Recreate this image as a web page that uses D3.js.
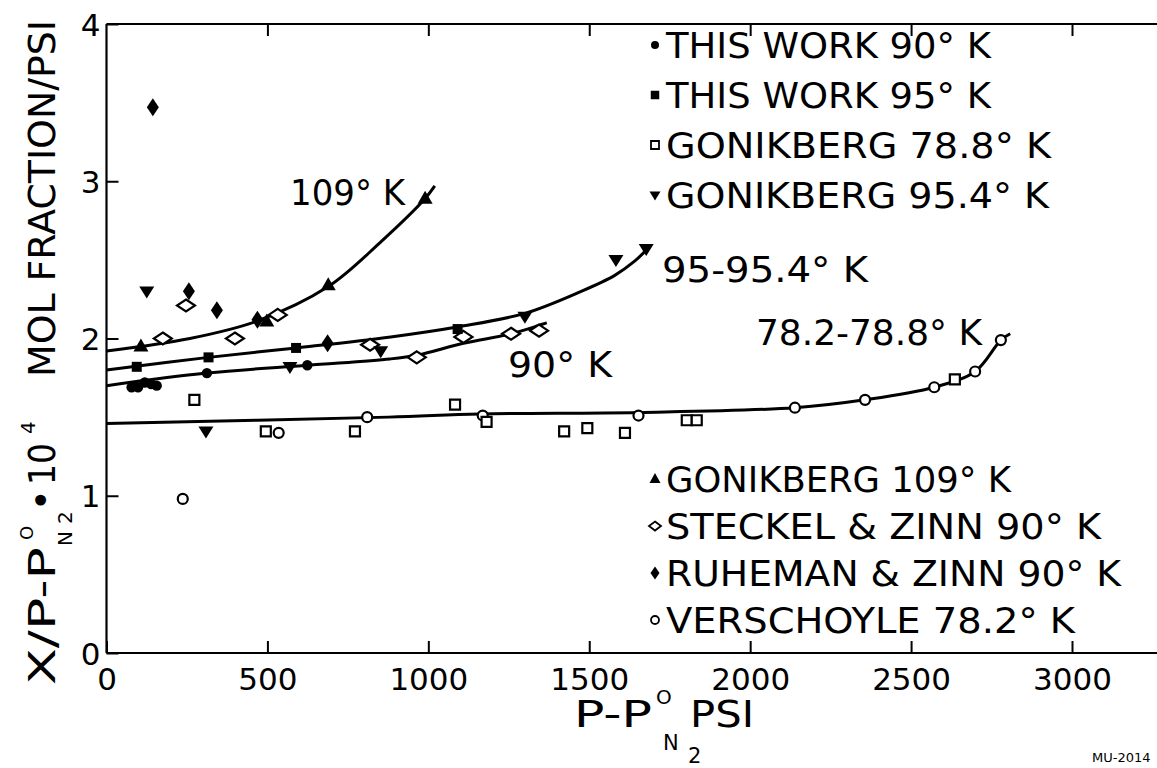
<!DOCTYPE html>
<html>
<head>
<meta charset="utf-8">
<script src="https://cdn.jsdelivr.net/npm/d3@7"></script>
<style>
  body { margin: 0; background: #fff; }
  svg { display: block; }
  text { font-family: "DejaVu Sans", sans-serif; fill: #000; }
</style>
</head>
<body>
<svg id="chart" width="1157" height="768"></svg>
<script>
// ---------------- data ----------------
const xTickValues = [0, 500, 1000, 1500, 2000, 2500, 3000];
const yTickValues = [0, 1, 2, 3, 4];

// [pressure P - P°N2 (psi), x/(P - P°N2) * 10^4]
const thisWork90     = [[78,1.69],[98,1.69],[119,1.72],[139,1.71],[156,1.70],[312,1.78],[624,1.83]];
const thisWork95     = [[94,1.82],[317,1.88],[589,1.94],[1091,2.06]];
const gonikberg788   = [[273,1.61],[495,1.41],[772,1.41],[1083,1.58],[1181,1.47],[1422,1.41],[1494,1.43],[1611,1.40],[1803,1.48],[1834,1.48],[2636,1.74]];
const gonikberg954   = [[125,2.30],[309,1.41],[570,1.82],[852,1.92],[1300,2.14],[1583,2.50],[1677,2.57]];
const gonikberg109   = [[107,1.95],[498,2.11],[689,2.34],[990,2.89]];
const steckelZinn90  = [[175,2.00],[247,2.21],[399,2.00],[532,2.15],[819,1.96],[964,1.88],[1109,2.01],[1257,2.03],[1344,2.05]];
const ruhemanZinn90  = [[144,3.47],[256,2.30],[343,2.18],[469,2.12],[687,1.97]];
const verschoyle782  = [[237,0.98],[535,1.40],[810,1.50],[1169,1.51],[1653,1.51],[2139,1.56],[2357,1.61],[2572,1.69],[2699,1.79],[2779,1.99]];

// smoothed curves drawn through the points
const curve109K = [[0,1.92],[259,2.00],[467,2.11],[689,2.33],[850,2.61],[990,2.89],[1020,2.97]];
const curve95K  = [[0,1.80],[317,1.88],[589,1.94],[883,2.01],[1094,2.075],[1300,2.16],[1475,2.30],[1578,2.40],[1640,2.49],[1681,2.57]];
const curve90K  = [[0,1.70],[312,1.78],[624,1.83],[881,1.87],[967,1.895],[1109,1.97],[1257,2.03],[1368,2.10]];
const curve78K  = [[0,1.46],[876,1.50],[1160,1.52],[1653,1.53],[2139,1.56],[2357,1.61],[2572,1.69],[2699,1.79],[2779,1.99],[2808,2.03]];

const curveLabels  = ["109° K", "95-95.4° K", "90° K", "78.2-78.8° K"];
const legendTop    = ["THIS WORK 90° K", "THIS WORK 95° K", "GONIKBERG 78.8° K", "GONIKBERG 95.4° K"];
const legendBottom = ["GONIKBERG 109° K", "STECKEL & ZINN 90° K", "RUHEMAN & ZINN 90° K", "VERSCHOYLE 78.2° K"];

// ---------------- layout ----------------
const svg = d3.select("#chart");
const W = 1157;
const x = d3.scaleLinear().domain([0, 3000]).range([106.5, 1072]);
const y = d3.scaleLinear().domain([0, 4]).range([653, 24]);

// marker path generators
function diamond(w, h) { return `M0,${-h/2}L${w/2},0L0,${h/2}L${-w/2},0Z`; }
function triUp(w, h)   { return `M0,${-h*0.6}L${w/2},${h*0.4}L${-w/2},${h*0.4}Z`; }
function triDown(w, h) { return `M0,${h*0.6}L${w/2},${-h*0.4}L${-w/2},${-h*0.4}Z`; }
function square(s)     { return `M${-s/2},${-s/2}h${s}v${s}h${-s}Z`; }
function circle(r)     { return `M${r},0A${r},${r} 0 1,1 ${-r},0A${r},${r} 0 1,1 ${r},0Z`; }

const styles = {
  work90:  {path: circle(5.2),     fill: "#000", stroke: "none"},
  work95:  {path: square(10),      fill: "#000", stroke: "none"},
  gon788:  {path: square(10),      fill: "#fff", stroke: "#000"},
  gon954:  {path: triDown(15, 12), fill: "#000", stroke: "none"},
  gon109:  {path: triUp(15, 13),   fill: "#000", stroke: "none"},
  steckel: {path: diamond(18, 12), fill: "#fff", stroke: "#000"},
  ruheman: {path: diamond(12, 18), fill: "#000", stroke: "none"},
  versch:  {path: circle(5),       fill: "#fff", stroke: "#000"}
};
const legendStyles = {
  work90:  {path: circle(4),       fill: "#000", stroke: "none"},
  work95:  {path: square(8.5),     fill: "#000", stroke: "none"},
  gon788:  {path: square(8),       fill: "#fff", stroke: "#000"},
  gon954:  {path: triDown(11, 9),  fill: "#000", stroke: "none"},
  gon109:  {path: triUp(11, 10),   fill: "#000", stroke: "none"},
  steckel: {path: diamond(12, 9),  fill: "#fff", stroke: "#000"},
  ruheman: {path: diamond(9, 13),  fill: "#000", stroke: "none"},
  versch:  {path: circle(4),       fill: "#fff", stroke: "#000"}
};

// ---------------- frame & axes ----------------
const frame = svg.append("g").attr("stroke", "#000").attr("stroke-width", 2.2).attr("fill", "none");
frame.append("line").attr("x1", x(0)).attr("x2", x(0)).attr("y1", y(4)).attr("y2", y(0));
frame.append("line").attr("x1", x(0)).attr("x2", W).attr("y1", y(0)).attr("y2", y(0));
frame.append("line").attr("x1", x(0)).attr("x2", W).attr("y1", y(4)).attr("y2", y(4));

const xAxis = svg.append("g").attr("transform", `translate(0,${y(0)})`)
  .call(d3.axisBottom(x).tickValues(xTickValues).tickSize(-12).tickFormat(d3.format("d")));
xAxis.select(".domain").remove();
xAxis.selectAll(".tick line").attr("stroke-width", 2);
xAxis.selectAll(".tick text").attr("y", 37).attr("dy", 0)
  .attr("font-size", 31).attr("font-family", "DejaVu Sans").attr("fill", "#000");

const xTop = svg.append("g").attr("transform", `translate(0,${y(4)})`)
  .call(d3.axisTop(x).tickValues(xTickValues.slice(1)).tickSize(-12).tickFormat(""));
xTop.select(".domain").remove();
xTop.selectAll(".tick line").attr("stroke-width", 2);

const yAxis = svg.append("g").attr("transform", `translate(${x(0)},0)`)
  .call(d3.axisLeft(y).tickValues(yTickValues).tickSize(-12).tickFormat(d3.format("d")));
yAxis.select(".domain").remove();
yAxis.selectAll(".tick line").attr("stroke-width", 2);
yAxis.selectAll(".tick text").attr("x", -6).attr("dy", "0.36em")
  .attr("font-size", 31).attr("font-family", "DejaVu Sans").attr("fill", "#000");

// ---------------- curves ----------------
const line = d3.line().x(d => x(d[0])).y(d => y(d[1])).curve(d3.curveCatmullRom.alpha(0.5));
svg.append("g").attr("fill", "none").attr("stroke", "#000").attr("stroke-width", 3)
  .selectAll("path").data([curve109K, curve95K, curve90K, curve78K]).join("path")
  .attr("d", line);

// ---------------- points ----------------
const series = [
  {data: verschoyle782, s: "versch"},
  {data: gonikberg788,  s: "gon788"},
  {data: steckelZinn90, s: "steckel"},
  {data: thisWork90,    s: "work90"},
  {data: thisWork95,    s: "work95"},
  {data: gonikberg954,  s: "gon954"},
  {data: gonikberg109,  s: "gon109"},
  {data: ruhemanZinn90, s: "ruheman"}
];
series.forEach(ser => {
  const st = styles[ser.s];
  svg.append("g").selectAll("path").data(ser.data).join("path")
    .attr("transform", d => `translate(${x(d[0])},${y(d[1])})`)
    .attr("d", st.path).attr("fill", st.fill)
    .attr("stroke", st.stroke).attr("stroke-width", 2.2);
});

// ---------------- curve labels ----------------
const labelPos = [[290, 205, 115], [662, 282, 206], [508, 377, 104], [756, 345, 226]];
svg.append("g").selectAll("text").data(curveLabels).join("text")
  .attr("x", (d, i) => labelPos[i][0]).attr("y", (d, i) => labelPos[i][1])
  .attr("textLength", (d, i) => labelPos[i][2]).attr("lengthAdjust", "spacingAndGlyphs")
  .attr("font-size", 36).text(d => d);

// ---------------- legends ----------------
const topKeys = ["work90", "work95", "gon788", "gon954"];
const botKeys = ["gon109", "steckel", "ruheman", "versch"];
function legend(items, keys, widths, y0, step) {
  const g = svg.append("g");
  items.forEach((t, i) => {
    const by = y0 + i * step;
    const st = legendStyles[keys[i]];
    g.append("path").attr("transform", `translate(655,${by - 13})`)
      .attr("d", st.path).attr("fill", st.fill).attr("stroke", st.stroke).attr("stroke-width", 1.8);
    g.append("text").attr("x", 666).attr("y", by).attr("font-size", 36)
      .attr("textLength", widths[i]).attr("lengthAdjust", "spacingAndGlyphs").text(t);
  });
}
legend(legendTop, topKeys, [325, 325, 385, 383], 58, 50);
legend(legendBottom, botKeys, [345, 435, 455, 409], 492, 47);

// ---------------- axis titles ----------------
const xt = svg.append("g");
xt.append("text").attr("x", 574).attr("y", 727).attr("font-size", 37)
  .attr("textLength", 78).attr("lengthAdjust", "spacingAndGlyphs").text("P-P");
xt.append("text").attr("x", 656).attr("y", 704).attr("font-size", 20).text("O");
xt.append("text").attr("x", 663).attr("y", 750).attr("font-size", 21).text("N");
xt.append("text").attr("x", 688).attr("y", 763).attr("font-size", 21).text("2");
xt.append("text").attr("x", 690).attr("y", 727).attr("font-size", 37)
  .attr("textLength", 64).attr("lengthAdjust", "spacingAndGlyphs").text("PSI");

const yt = svg.append("g").attr("transform", "translate(55,685) rotate(-90)");
yt.append("text").attr("x", 0).attr("y", 0).attr("font-size", 37)
  .attr("textLength", 138).attr("lengthAdjust", "spacingAndGlyphs").text("X/P-P");
yt.append("text").attr("x", 145).attr("y", -22).attr("font-size", 18).text("O");
yt.append("text").attr("x", 139).attr("y", 17).attr("font-size", 20).text("N");
yt.append("text").attr("x", 161).attr("y", 17).attr("font-size", 20).text("2");
yt.append("text").attr("x", 174).attr("y", 0).attr("font-size", 37).text("•");
yt.append("text").attr("x", 200).attr("y", 0).attr("font-size", 37)
  .attr("textLength", 42).attr("lengthAdjust", "spacingAndGlyphs").text("10");
yt.append("text").attr("x", 251).attr("y", -20).attr("font-size", 20).text("4");
yt.append("text").attr("x", 308).attr("y", 0).attr("font-size", 37)
  .attr("textLength", 357).attr("lengthAdjust", "spacingAndGlyphs").text("MOL FRACTION/PSI");

// drawing number, bottom right corner
svg.append("text").attr("x", 1092).attr("y", 762).attr("font-size", 13).text("MU-2014");
</script>
</body>
</html>
